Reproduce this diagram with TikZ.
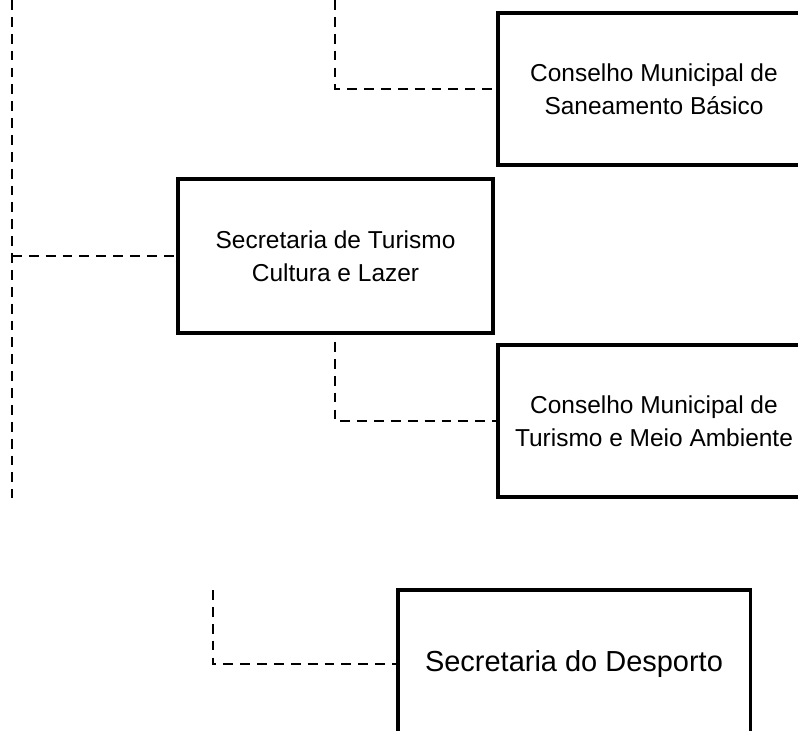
\documentclass[tikz,border=0pt]{standalone}
\usepackage{fontspec}
\setmainfont{Liberation Sans}
\tikzset{
  orgbox/.style={draw, line width=2.2pt, align=center, inner sep=0pt,
    font=\fontsize{17.4}{23.5}\selectfont},
  link/.style={dash pattern=on 7pt off 5pt, line width=0.9pt}
}
\begin{document}
\begin{tikzpicture}[x=0.025cm, y=-0.025cm]
          \useasboundingbox (0,0) rectangle (798,731);
          \clip (0,0) rectangle (798,731);
          \node[orgbox, minimum width=7.8cm, minimum height=3.8cm] (san) at (654, 89) {Conselho Municipal de\\Saneamento B\'asico};
          \node[orgbox, minimum width=7.875cm, minimum height=3.85cm] (tur) at (335.5, 256) {Secretaria de Turismo\\Cultura e Lazer};
          \node[orgbox, minimum width=7.8cm, minimum height=3.8cm] (mei) at (654, 421) {Conselho Municipal de\\Turismo e Meio Ambiente};
          \node[orgbox, minimum width=8.8cm, minimum height=3.7cm, font=\fontsize{20.6}{24}\selectfont] (des) at (574, 664) {Secretaria do Desporto};
          \coordinate (spinetop) at (12, 0);
          \coordinate (spinebot) at (12, 498);
          \coordinate (santop) at (335, 0);
          \coordinate (meitop) at (335, 342);
          \coordinate (destop) at (213, 590);
          \draw[link] (spinetop) -- (spinebot);
          \draw[link] (spinetop |- tur.west) -- (tur.west);
          \draw[link] (santop) |- (san.west);
          \draw[link] (meitop) |- (mei.west);
          \draw[link] (destop) |- (des.west);
        \end{tikzpicture}
\end{document}
